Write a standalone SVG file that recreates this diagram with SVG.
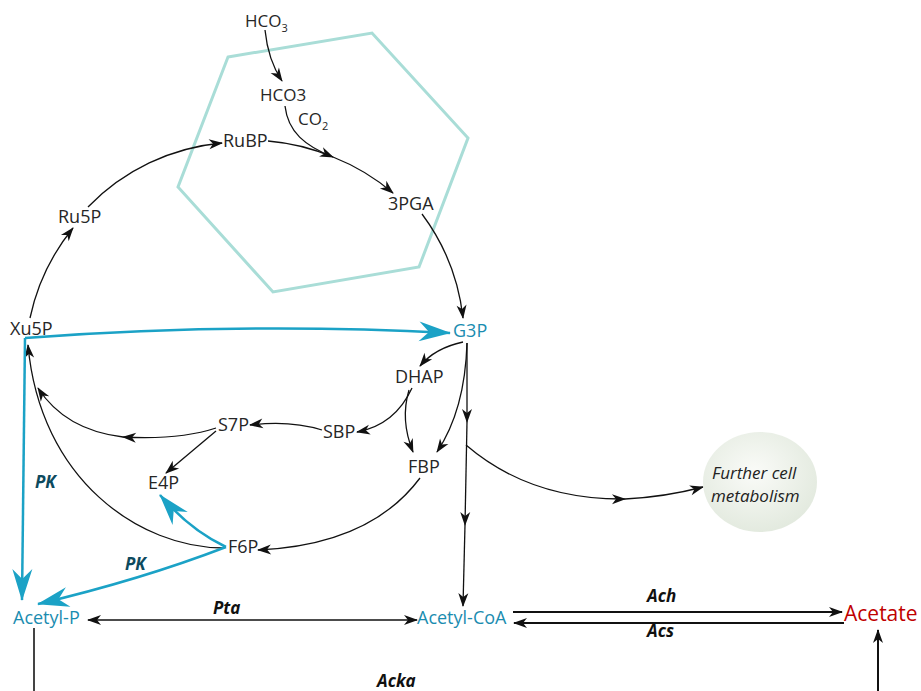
<svg xmlns="http://www.w3.org/2000/svg" width="921" height="691" viewBox="0 0 921 691">
<style>
  .lbl{font-family:"Open Sans","DejaVu Sans",sans-serif;font-size:18px;fill:#262626}
  .sm{font-size:17px}
  .tl{fill:#1a8cb0}
  .en{font-family:"Open Sans","DejaVu Sans",sans-serif;font-size:17px;font-weight:bold;font-style:italic;fill:#111}
  .pk{fill:#0d4a5e}
  .ln{fill:none;stroke:#111;stroke-width:1.3}
  .bl{fill:none;stroke:#1ba2c6;stroke-width:2.5}
  .hv{fill:none;stroke:#111;stroke-width:2}
</style>
<defs>
  <marker id="ah" markerUnits="userSpaceOnUse" markerWidth="14" markerHeight="10" refX="13" refY="5" orient="auto-start-reverse" overflow="visible">
    <path d="M0,0 L14,5 L0,10 L4,5 z" fill="#111"/>
  </marker>
  <marker id="ta" markerUnits="userSpaceOnUse" markerWidth="32" markerHeight="20" refX="31" refY="10" orient="auto" overflow="visible">
    <path d="M0,0 L32,10 L0,20 L10,10 z" fill="#1ba2c6"/>
  </marker>
  <radialGradient id="eg" cx="0.45" cy="0.4" r="0.6">
    <stop offset="0" stop-color="#fafbf8"/>
    <stop offset="1" stop-color="#e3eadf"/>
  </radialGradient>
</defs>

<g id="carboxysome">
  <polygon points="228,57 372,33 468,138 419,267 273,292 178,187" fill="none" stroke="#a9ddd7" stroke-width="3"/>
</g>

<g id="connectors">
  <path class="ln" d="M30,318 A213,213 0 0 1 73,228" marker-end="url(#ah)"/>
  <path class="ln" d="M88,207 A213,213 0 0 1 222,143" marker-end="url(#ah)"/>
  <path class="ln" d="M268,141 A213,213 0 0 1 333,157" marker-end="url(#ah)"/>
  <path class="ln" d="M333,157 A213,213 0 0 1 393,193" marker-end="url(#ah)"/>
  <path class="ln" d="M422,214 A213,213 0 0 1 463,318" marker-end="url(#ah)"/>
  <path class="ln" d="M265,30 Q268,60 282,81" marker-end="url(#ah)"/>
  <path class="ln" d="M285,106 C288,132 305,146 333,157"/>
  <path class="ln" d="M463,342 Q435,348 420,366" marker-end="url(#ah)"/>
  <path class="ln" d="M467,343 Q465,410 437,452" marker-end="url(#ah)"/>
  <path class="ln" d="M412,388 Q395,425 357,432" marker-end="url(#ah)"/>
  <path class="ln" d="M409,390 Q400,420 413,452" marker-end="url(#ah)"/>
  <path class="ln" d="M322,430 Q290,420 250,425" marker-end="url(#ah)"/>
  <path class="ln" d="M216,428 Q180,440 123,437" marker-end="url(#ah)"/>
  <path class="ln" d="M123,437 Q65,430 38,388" marker-end="url(#ah)"/>
  <path class="ln" d="M216,431 L166,473" marker-end="url(#ah)"/>
  <path class="ln" d="M420,478 Q370,545 258,550" marker-end="url(#ah)"/>
  <path class="ln" d="M224,548 C140,548 40,480 28,345" marker-end="url(#ah)"/>
  <path class="ln" d="M467,343 L467,422" marker-end="url(#ah)"/>
  <path class="ln" d="M467,422 L465,525" marker-end="url(#ah)"/>
  <path class="ln" d="M465,525 L463,606" marker-end="url(#ah)"/>
  <path class="ln" d="M466,445 Q530,500 625,499" marker-end="url(#ah)"/>
  <path class="ln" d="M625,499 Q665,497 703,487" marker-end="url(#ah)"/>
  <path class="bl" d="M25,338 Q240,322 450,333" marker-end="url(#ta)"/>
  <path class="bl" d="M25,338 L22,600" marker-end="url(#ta)"/>
  <path class="bl" d="M226,547 Q140,580 38,604" marker-end="url(#ta)"/>
  <path class="bl" d="M226,547 Q190,530 160,495" marker-end="url(#ta)"/>
  <path class="ln" d="M88,620 L417,620" marker-start="url(#ah)" marker-end="url(#ah)" style="stroke-width:1.5"/>
  <path class="hv" d="M513,612 L842,612" marker-end="url(#ah)"/>
  <path class="hv" d="M844,623 L514,623" marker-end="url(#ah)"/>
  <path class="hv" d="M34,628 L34,691" style="stroke:#444"/>
  <path class="hv" d="M878,691 L878,630" marker-end="url(#ah)"/>
</g>

<g id="n-hco3-out"><text class="lbl sm" x="245" y="27">HCO<tspan font-size="11" dy="5">3</tspan></text></g>
<g id="n-hco3-in"><text class="lbl sm" x="260" y="101">HCO3</text></g>
<g id="n-co2"><text class="lbl sm" x="298" y="125">CO<tspan font-size="11" dy="5">2</tspan></text></g>
<g id="n-rubp"><text class="lbl" x="223" y="147">RuBP</text></g>
<g id="n-3pga"><text class="lbl" x="388" y="210">3PGA</text></g>
<g id="n-ru5p"><text class="lbl" x="58" y="223">Ru5P</text></g>
<g id="n-xu5p"><text class="lbl" x="10" y="335">Xu5P</text></g>
<g id="n-g3p"><text class="lbl tl" x="453" y="337">G3P</text></g>
<g id="n-dhap"><text class="lbl" x="395" y="383">DHAP</text></g>
<g id="n-s7p"><text class="lbl" x="218" y="431">S7P</text></g>
<g id="n-sbp"><text class="lbl" x="323" y="438">SBP</text></g>
<g id="n-fbp"><text class="lbl" x="408" y="473">FBP</text></g>
<g id="n-e4p"><text class="lbl" x="148" y="489">E4P</text></g>
<g id="n-f6p"><text class="lbl" x="228" y="553">F6P</text></g>
<g id="n-further">
  <ellipse cx="760" cy="482" rx="57" ry="50" fill="url(#eg)"/>
  <text x="712" y="479" style="font-family:'Open Sans','DejaVu Sans',sans-serif;font-size:17px;font-style:italic;fill:#222">Further cell</text>
  <text x="711" y="502" style="font-family:'Open Sans','DejaVu Sans',sans-serif;font-size:17px;font-style:italic;fill:#222">metabolism</text>
</g>
<g id="n-acetylp"><text class="lbl tl" x="13" y="624">Acetyl-P</text></g>
<g id="n-acetylcoa"><text class="lbl tl" x="417" y="624">Acetyl-CoA</text></g>
<g id="n-acetate"><text class="lbl" x="844" y="621" style="font-size:21px;fill:#c00000">Acetate</text></g>

<g id="enzymes">
  <text class="en pk" x="35" y="488">PK</text>
  <text class="en pk" x="125" y="570">PK</text>
  <text class="en" x="213" y="614">Pta</text>
  <text class="en" x="647" y="602">Ach</text>
  <text class="en" x="647" y="637">Acs</text>
  <text class="en" x="377" y="687">Acka</text>
</g>
</svg>
